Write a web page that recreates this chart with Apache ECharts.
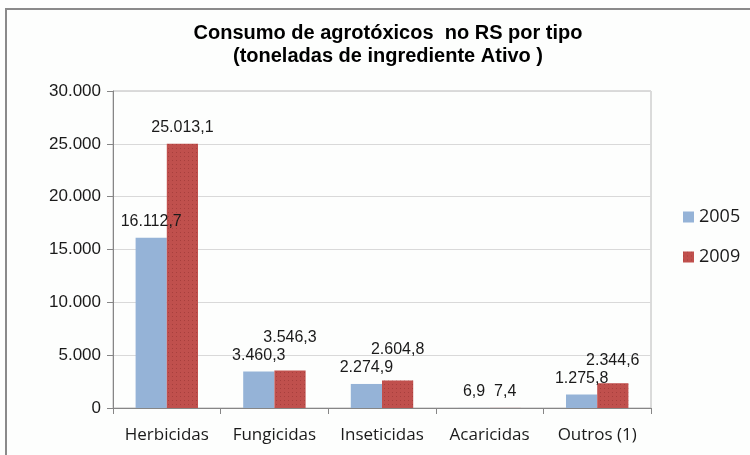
<!DOCTYPE html>
<html>
<head>
<meta charset="utf-8">
<script src="https://cdn.jsdelivr.net/npm/echarts@6/dist/echarts.min.js"></script>
<style>
  html, body { margin: 0; padding: 0; background: #fff; }
  #main { width: 750px; height: 455px; }
</style>
</head>
<body>
<div id="main"></div>
<script>
// categorias e valores (toneladas de ingrediente ativo)
var categorias = ['Herbicidas', 'Fungicidas', 'Inseticidas', 'Acaricidas', 'Outros (1)'];
var anos = ['2005', '2009'];
var valores2005 = [16112.7, 3460.3, 2274.9, 6.9, 1275.8];
var valores2009 = [25013.1, 3546.3, 2604.8, 7.4, 2344.6];

// formata no padrão brasileiro: 25.013,1
function fmtBR(v, dec){
  var s = v.toFixed(dec).split('.');
  var inteiro = s[0].replace(/\B(?=(\d{3})+(?!\d))/g, '.');
  return dec > 0 ? inteiro + ',' + s[1] : inteiro;
}

var chart = echarts.init(document.getElementById('main'));

var LABEL_DIST = 8;

var labelStyle = {
  show: true,
  position: 'top',
  distance: LABEL_DIST,
  fontFamily: 'Liberation Sans, Arial',
  fontSize: 16,
  color: '#1a1a1a',
  formatter: function(p){ return fmtBR(p.value, 1); }
};

// rótulo de 2009 sobe quando encosta no rótulo de 2005 (como no Excel)
function empurraRotulo(params){
  var i = params.dataIndex;
  var r = params.rect, lr = params.labelRect;
  if(!r || !lr || lr.width <= r.width) return {};
  var base = r.y + r.height;
  var topo2005 = base - r.height * valores2005[i] / valores2009[i];
  var limite = topo2005 - LABEL_DIST - lr.height - 2;
  var fundo = lr.y + lr.height;
  if(fundo > limite) return { dy: limite - fundo };
  return {};
}

var option = {
  backgroundColor: '#fdfefd',
  animation: false,
  aria: { enabled: true, decal: { show: true } },
  graphic: [{
    type: 'rect',
    shape: { x: 6, y: 9, width: 800, height: 500 },
    style: { fill: 'none', stroke: '#8a8a8a', lineWidth: 2 },
    silent: true
  }],
  title: {
    text: 'Consumo de agrotóxicos  no RS por tipo\n(toneladas de ingrediente Ativo )',
    left: 383,
    top: 17,
    textAlign: 'center',
    textStyle: {
      fontFamily: 'Liberation Sans, Arial',
      fontWeight: 'bold',
      fontSize: 20,
      lineHeight: 23,
      color: '#000'
    }
  },
  legend: {
    data: anos,
    orient: 'vertical',
    left: 683,
    top: 208,
    padding: 0,
    itemWidth: 11,
    itemHeight: 11,
    itemGap: 22,
    icon: 'rect',
    textStyle: { fontFamily: 'Open Sans', fontSize: 18, color: '#1a1a1a' }
  },
  grid: { left: 113, right: 99, top: 91, bottom: 47, show: true, borderColor: '#b8b8b8', borderWidth: 1 },
  xAxis: {
    type: 'category',
    data: categorias,
    axisLine: { lineStyle: { color: '#868686' } },
    axisTick: { show: true, length: 6, lineStyle: { color: '#868686' } },
    axisLabel: { interval: 0, fontFamily: 'Open Sans', fontSize: 17, color: '#1a1a1a', margin: 19 }
  },
  yAxis: {
    type: 'value',
    min: 0,
    max: 30000,
    interval: 5000,
    axisLine: { show: true, lineStyle: { color: '#868686' } },
    axisTick: { show: true, length: 6, lineStyle: { color: '#868686' } },
    splitLine: { lineStyle: { color: '#d9d9d9' } },
    axisLabel: {
      fontFamily: 'Liberation Sans, Arial',
      fontSize: 17,
      color: '#1a1a1a',
      margin: 12,
      formatter: function(v){ return fmtBR(v, 0); }
    }
  },
  series: [
    {
      name: anos[0],
      type: 'bar',
      data: valores2005,
      barGap: '0%',
      barCategoryGap: '42%',
      itemStyle: { color: '#95b3d7', decal: { symbol: 'none' } },
      label: labelStyle
    },
    {
      name: anos[1],
      type: 'bar',
      data: valores2009,
      barGap: '0%',
      barCategoryGap: '42%',
      itemStyle: {
        color: '#c0504d',
        decal: { symbol: 'rect', symbolSize: 1, color: 'rgba(110,25,25,0.3)', dashArrayX: [1, 3], dashArrayY: [1, 3], rotation: 0 }
      },
      label: labelStyle,
      labelLayout: empurraRotulo
    }
  ]
};

chart.setOption(option);
</script>
</body>
</html>
